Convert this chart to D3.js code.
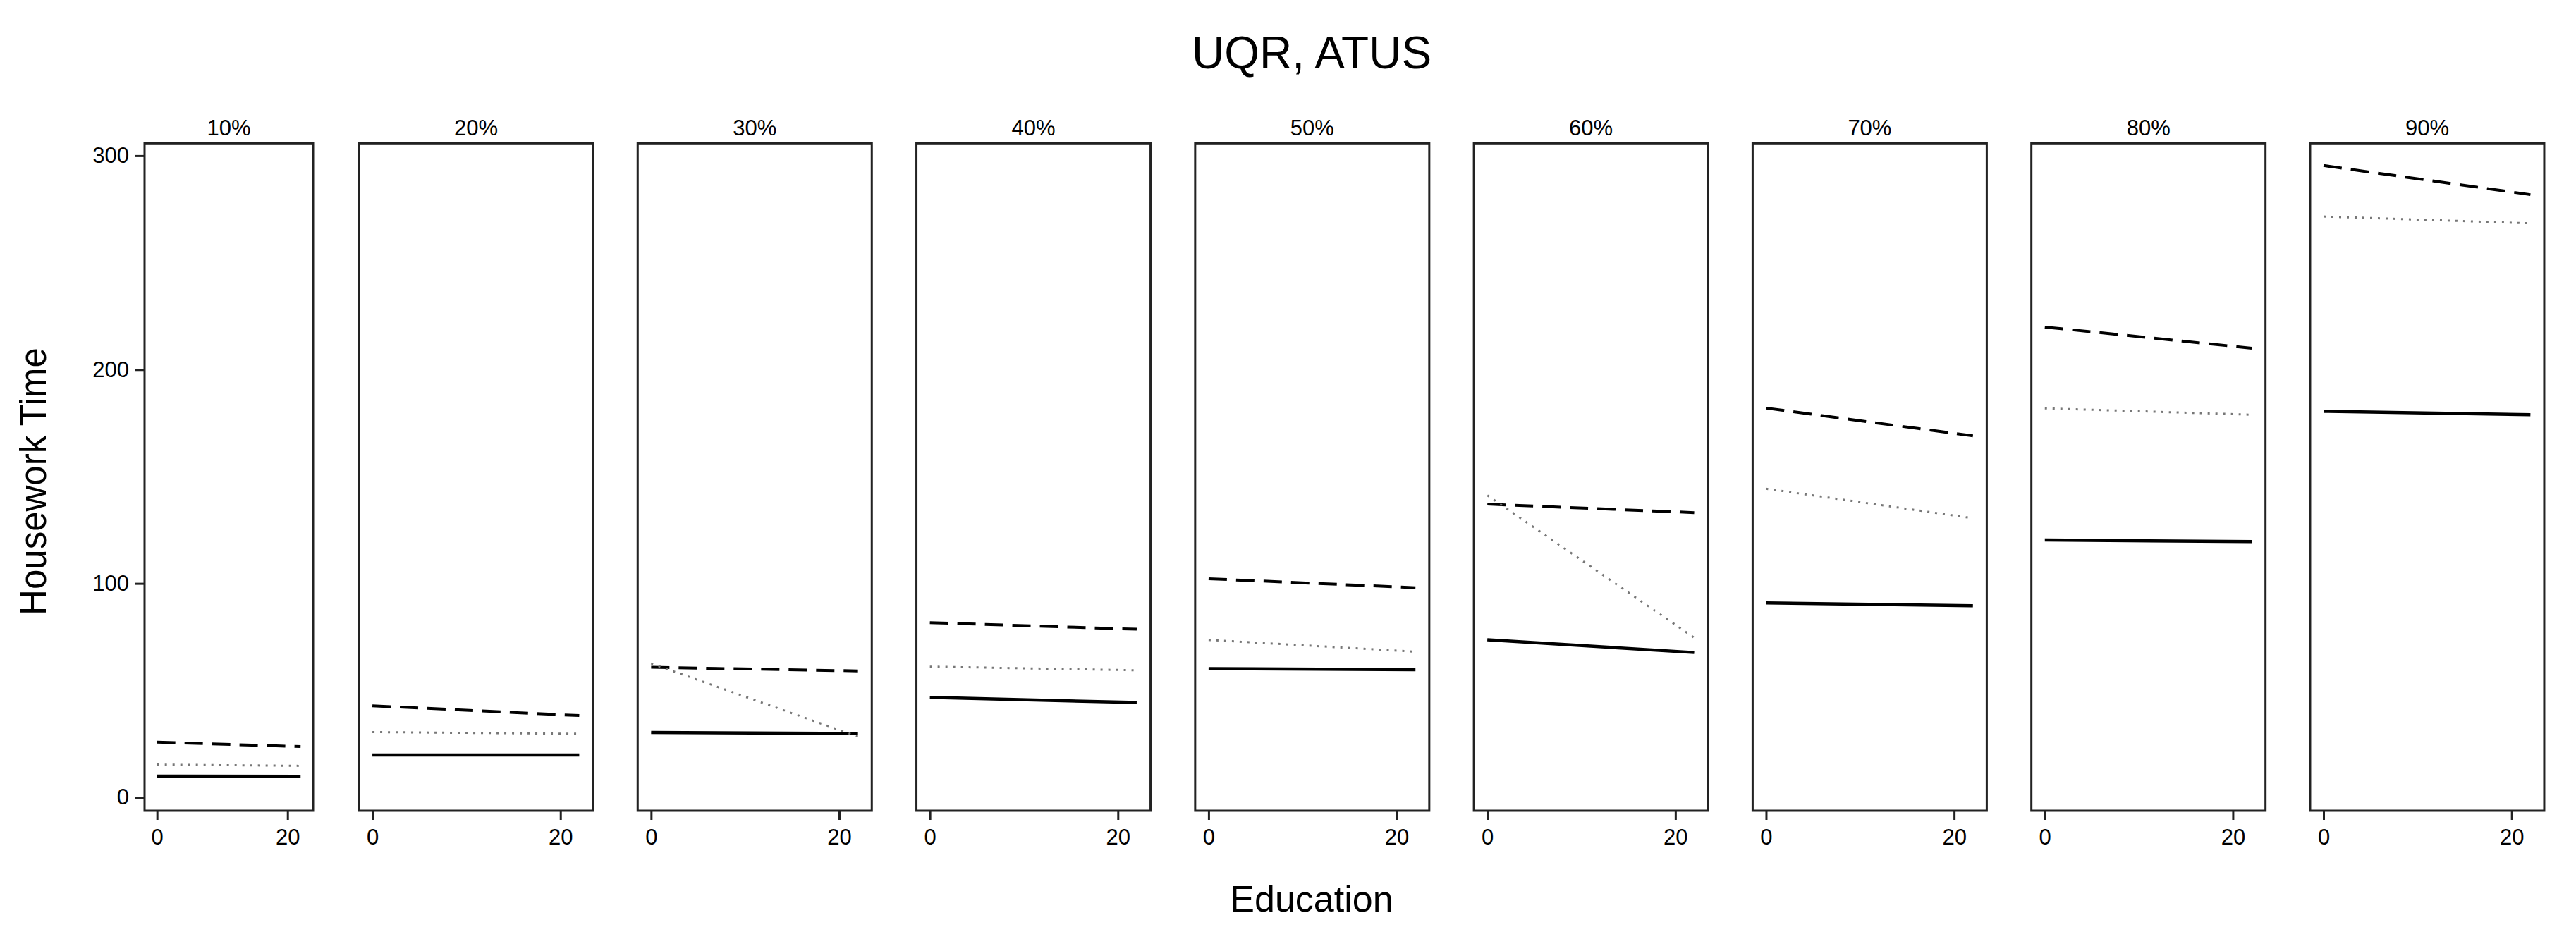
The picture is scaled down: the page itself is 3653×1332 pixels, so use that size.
<!DOCTYPE html>
<html>
<head>
<meta charset="utf-8">
<script src="https://cdn.jsdelivr.net/npm/d3@7"></script>
<style>
  html, body { margin: 0; padding: 0; background: #fff; }
  svg { display: block; font-family: "Liberation Sans", Arial, Helvetica, sans-serif; }
</style>
</head>
<body>
<svg id="chart" width="3653" height="1332"></svg>
<script>
// ---------- data ----------
const quantiles = ["10%", "20%", "30%", "40%", "50%", "60%", "70%", "80%", "90%"];
const educationRange = [0, 22];               // x values where each fitted line starts / ends
const xTicks = [0, 20];
const yTicks = [0, 100, 200, 300];
// [value at education 0, value at education 22] for each quantile panel
const solidSeries  = [[9.9, 9.8], [19.8, 19.8], [30.3, 29.8], [46.7, 44.3], [60.2, 59.7],
                      [73.7, 67.7], [90.9, 89.6], [120.3, 119.6], [180.5, 178.9]];
const dashedSeries = [[25.8, 23.7], [42.8, 38.2], [60.8, 59.1], [81.7, 78.6], [102.2, 98.0],
                      [137.1, 133.1], [182.0, 169.0], [219.9, 210.0], [295.4, 281.8]];
const dottedSeries = [[15.3, 14.7], [30.5, 29.7], [62.6, 28.4], [61.1, 59.4], [73.6, 68.1],
                      [141.2, 74.6], [144.3, 130.5], [181.9, 178.9], [271.6, 268.4]];
const titleText = "UQR, ATUS";
const xLabel = "Education";
const yLabel = "Housework Time";

// ---------- layout ----------
const svg = d3.select("#chart");
svg.append("rect").attr("width", 3653).attr("height", 1332).attr("fill", "#fff");

const boxTop = 203.3, boxBottom = 1150;
const firstPanel = { left: 205, right: 444, xDomain: [-1.91, 23.92] };
const otherLeft0 = 509, panelStep = 395.28, panelWidth = 332;
const otherXDomain = [-1.43, 23.47];

const y = d3.scaleLinear().domain([-6.26, 305.8]).range([boxBottom, boxTop]);

const styles = [
  { data: solidSeries,  stroke: "#000", width: 4.5, dash: null },
  { data: dashedSeries, stroke: "#000", width: 4,   dash: "26,13" },
  { data: dottedSeries, stroke: "#777", width: 3,   dash: "3,8" }
];

quantiles.forEach((q, i) => {
  const left = i === 0 ? firstPanel.left : otherLeft0 + (i - 1) * panelStep;
  const right = i === 0 ? firstPanel.right : left + panelWidth;
  const dom = i === 0 ? firstPanel.xDomain : otherXDomain;
  const x = d3.scaleLinear().domain(dom).range([left, right]);

  const g = svg.append("g");

  // lines
  const line = d3.line().x(d => x(d[0])).y(d => y(d[1]));
  styles.forEach(s => {
    const pts = [[educationRange[0], s.data[i][0]], [educationRange[1], s.data[i][1]]];
    g.append("path")
      .attr("d", line(pts))
      .attr("fill", "none")
      .attr("stroke", s.stroke)
      .attr("stroke-width", s.width)
      .attr("stroke-dasharray", s.dash)
      .attr("stroke-linecap", "butt");
  });

  // box
  g.append("rect")
    .attr("x", left).attr("y", boxTop)
    .attr("width", right - left).attr("height", boxBottom - boxTop)
    .attr("fill", "none").attr("stroke", "#222").attr("stroke-width", 3);

  // panel label
  g.append("text")
    .attr("x", (left + right) / 2).attr("y", 192)
    .attr("text-anchor", "middle")
    .attr("font-size", 31).attr("fill", "#000")
    .text(q);

  // x axis
  const xa = g.append("g")
    .attr("transform", `translate(0,${boxBottom})`)
    .call(d3.axisBottom(x).tickValues(xTicks).tickSize(13).tickPadding(13).tickFormat(d3.format("d")));
  xa.select(".domain").remove();
  xa.selectAll("line").attr("stroke", "#222").attr("stroke-width", 3);
  xa.selectAll("text").attr("font-size", 31).attr("fill", "#000")
    .attr("font-family", "Liberation Sans, Arial, sans-serif");

  // y axis on first panel only
  if (i === 0) {
    const ya = g.append("g")
      .attr("transform", `translate(${left},0)`)
      .call(d3.axisLeft(y).tickValues(yTicks).tickSize(13).tickPadding(9).tickFormat(d3.format("d")));
    ya.select(".domain").remove();
    ya.selectAll("line").attr("stroke", "#222").attr("stroke-width", 3);
    ya.selectAll("text").attr("font-size", 31).attr("fill", "#000")
      .attr("font-family", "Liberation Sans, Arial, sans-serif");
  }
});

// titles
svg.append("text")
  .attr("x", 1860).attr("y", 97)
  .attr("text-anchor", "middle").attr("font-size", 64).attr("fill", "#000")
  .text(titleText);

svg.append("text")
  .attr("x", 1860).attr("y", 1293)
  .attr("text-anchor", "middle").attr("font-size", 52).attr("fill", "#000")
  .text(xLabel);

svg.append("text")
  .attr("transform", "translate(65,683) rotate(-90)")
  .attr("text-anchor", "middle").attr("font-size", 51).attr("fill", "#000")
  .text(yLabel);
</script>
</body>
</html>
